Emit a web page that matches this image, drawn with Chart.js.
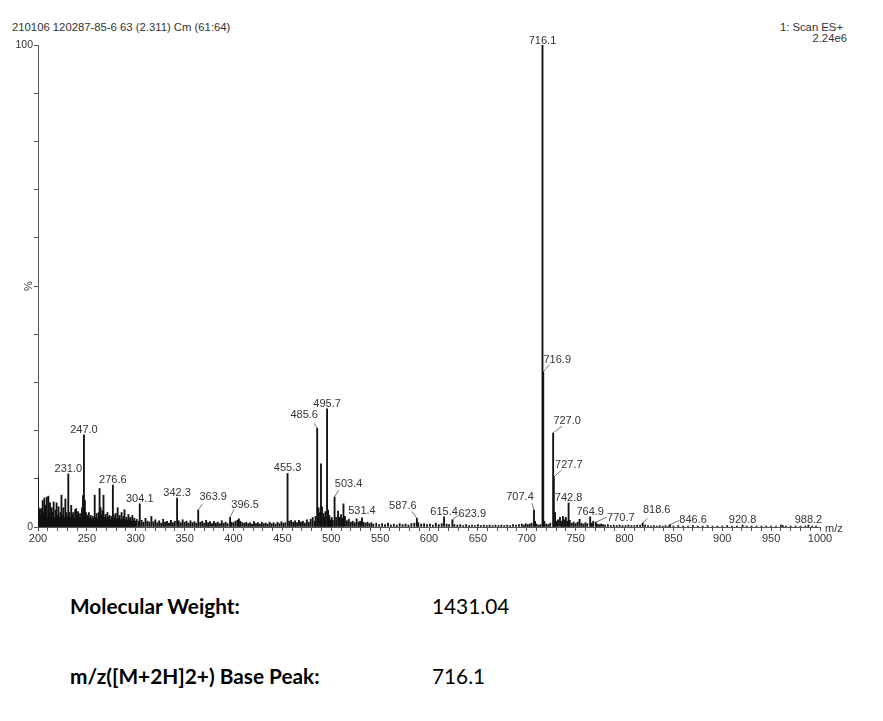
<!DOCTYPE html>
<html>
<head>
<meta charset="utf-8">
<script src="https://cdn.jsdelivr.net/npm/chart.js@4.4.1/dist/chart.umd.min.js"></script>
<style>
  body { margin: 0; background: #fff; width: 883px; height: 721px; position: relative; overflow: hidden; font-family: 'Liberation Sans', Arial, sans-serif; }
  #wrap { position: absolute; left: 0; top: 0; width: 883px; height: 560px; }
  .hdr { position: absolute; font-size: 11.3px; line-height: 12px; color: #333; white-space: nowrap; }
  .info { position: absolute; font-family: Lato, 'Open Sans', sans-serif; font-size: 20.8px; line-height: 22px; color: #000; white-space: nowrap; }
  .info b { font-weight: 700; }
</style>
</head>
<body>
<div class="hdr" style="left:12px; top:21px;">210106 120287-85-6 63 (2.311) Cm (61:64)</div>
<div class="hdr" style="right:40px; top:21px;">1: Scan ES+</div>
<div class="hdr" style="right:36px; top:32px;">2.24e6</div>
<div id="wrap"><canvas id="spettro" width="883" height="560"></canvas></div>
<div class="info" style="left:70px; top:595px;"><b>Molecular Weight:</b></div>
<div class="info" style="left:432px; top:595px;">1431.04</div>
<div class="info" style="left:70px; top:665px;"><b>m/z([M+2H]2+) Base Peak:</b></div>
<div class="info" style="left:432px; top:665px;">716.1</div>
<script>
const spectrum = [
  [200.0, 10.4], [200.8, 4], [201.5, 3.5], [202.3, 2.5], [203.1, 3.8], [204.0, 2], [204.8, 5.5], [205.6, 3], [206.5, 6], [207.3, 2.5],
  [208.1, 4.5], [209.0, 6.2], [209.8, 2], [210.6, 6.4], [211.5, 3], [212.3, 5], [213.1, 2.2], [214.0, 4], [215.0, 3], [216.0, 5.2],
  [217.0, 2], [218.0, 3.5], [219.0, 5], [220.0, 2.4], [221.0, 4.2], [222.0, 2], [223.0, 3], [224.0, 6.6], [225.0, 2.5], [226.0, 4],
  [227.0, 2], [228.0, 5.8], [229.0, 3], [230.0, 2.2], [231.0, 11.0], [232.0, 3], [233.0, 2], [234.0, 4.5], [235.0, 2.5], [236.0, 3],
  [237.0, 1.8], [238.0, 3.6], [239.0, 3.8], [240.0, 2.5], [241.0, 3.2], [242.0, 2], [243.0, 2.8], [244.0, 1.8], [245.0, 4], [246.0, 6.5],
  [247.0, 19.1], [248.0, 5.5], [249.0, 3], [250.0, 2.5], [251.0, 2.2], [252.0, 3], [253.0, 1.8], [254.0, 2.4], [255.0, 1.6], [256.0, 2.2],
  [257.0, 1.8], [258.0, 6.6], [259.0, 2], [260.0, 2.8], [261.0, 1.8], [262.0, 3], [263.0, 8], [264.0, 4], [265.0, 2.5], [266.0, 3.4],
  [267.0, 6.6], [268.0, 2], [269.0, 2.6], [270.0, 1.8], [271.0, 3], [272.0, 2], [273.0, 2.4], [274.0, 1.6], [275.0, 2.2], [276.6, 8.7],
  [277.5, 2.5], [278.5, 1.8], [279.5, 2.8], [280.5, 1.6], [281.5, 4], [282.5, 1.8], [283.5, 2.4], [284.5, 1.5], [285.5, 3], [286.5, 1.6],
  [287.5, 2.2], [288.5, 3.6], [289.5, 1.5], [290.5, 2], [291.5, 1.4], [292.5, 2.6], [293.5, 1.5], [294.5, 2], [295.5, 1.2], [296.5, 2.4],
  [297.5, 1.3], [298.5, 1.8], [299.5, 1.2], [301, 1.6], [303, 1.2], [304.1, 4.8], [306, 1.4], [308, 1], [310, 1.8], [312, 1.2],
  [314, 1], [316, 2.2], [318, 1.1], [320, 1.5], [322, 0.9], [324, 1.3], [326, 0.8], [328, 1.6], [330, 1], [332, 1.2],
  [334, 0.8], [336, 1.4], [338, 0.9], [340, 1.2], [342.3, 6.0], [344, 1.3], [346, 0.9], [348, 1.5], [350, 1], [352, 1.2],
  [354, 0.8], [356, 1.3], [358, 0.9], [360, 1.1], [362, 0.8], [363.9, 3.5], [366, 1], [368, 1.2], [370, 0.8], [372, 1.4],
  [374, 0.9], [376, 1.1], [378, 0.7], [380, 1.2], [382, 0.8], [384, 1], [386, 0.7], [388, 1.3], [390, 0.8], [392, 1],
  [394, 0.7], [396.5, 2.0], [398, 1], [400, 0.9], [402, 1.2], [404, 1.4], [405.5, 1.7], [407, 1.2], [409, 0.9], [411, 0.8],
  [413, 1], [415, 0.7], [417, 0.9], [419, 0.6], [421, 1.1], [423, 0.7], [425, 0.9], [427, 0.6], [429, 1], [431, 0.7],
  [433, 0.8], [435, 0.6], [437, 1], [439, 0.7], [441, 0.9], [443, 0.6], [445, 1], [447, 0.7], [449, 1.1], [451, 0.8],
  [453, 0.9], [455.3, 11.1], [457, 1.2], [459, 1.4], [461, 1], [463, 1.3], [465, 0.9], [467, 1.4], [469, 1], [471, 1.2],
  [473, 0.8], [475, 1.5], [477, 1], [479, 1.6], [481, 2], [483, 1.2], [484, 2.2], [485.6, 20.5], [487, 4], [488.5, 3],
  [489.5, 13.1], [490.5, 4.2], [492, 2.8], [493, 2], [494, 3.2], [495.7, 24.5], [496.8, 3.5], [498, 2.4], [499, 1.5], [500.5, 2],
  [501.5, 1.4], [503.4, 6.2], [505, 2], [507, 3.3], [508.5, 2], [510, 2.6], [511.5, 1.8], [512.5, 4.8], [514, 2.2], [516, 1.3],
  [518, 1.6], [520, 1], [522, 1.2], [524, 0.9], [526, 1.7], [528, 1], [529.5, 1.2], [531.4, 1.9], [533, 1], [535, 0.8],
  [537, 1], [539, 0.7], [541, 0.9], [543, 0.6], [546, 0.8], [549, 0.5], [552, 0.7], [555, 0.5], [558, 0.8], [561, 0.4],
  [564, 0.6], [567, 0.4], [570, 0.7], [573, 0.5], [576, 0.6], [579, 0.4], [582, 0.7], [585, 0.8], [587.6, 1.8], [589, 0.9],
  [592, 0.6], [595, 0.7], [598, 0.5], [601, 0.6], [604, 0.4], [607, 0.8], [610, 0.5], [613, 0.7], [615.4, 2.1], [618, 0.6],
  [620.5, 0.5], [623.9, 1.5], [626, 0.5], [629, 0.4], [632, 0.5], [635, 0.3], [638, 0.5], [641, 0.3], [644, 0.4], [647, 0.3],
  [650, 0.5], [653, 0.3], [656, 0.4], [659, 0.3], [662, 0.4], [665, 0.3], [668, 0.4], [671, 0.3], [674, 0.4], [677, 0.3],
  [680, 0.4], [683, 0.3], [686, 0.5], [689, 0.4], [692, 0.5], [695, 0.6], [697, 0.4], [699, 0.7], [701, 0.5], [703, 0.6],
  [705, 0.8], [707.4, 3.5], [708.5, 1.2], [710, 0.6], [712, 0.4], [714, 0.5], [716.1, 100], [716.9, 32.2], [718, 1.2], [720, 0.6],
  [722, 0.5], [724, 0.8], [727.0, 19.5], [727.7, 10.4], [729, 3], [730.5, 1.2], [732, 1.5], [734, 2], [735.5, 1.2], [737, 2.2],
  [738.5, 1.5], [740, 2], [741.5, 1.2], [742.8, 5.0], [744, 1.4], [746, 0.8], [748, 1], [750, 0.7], [752, 1], [754, 1.6],
  [756, 0.8], [758, 0.6], [760, 0.9], [762, 0.7], [764.9, 2.1], [766.5, 0.8], [768, 1.2], [770.7, 1.0], [772, 0.6], [774, 0.5],
  [776, 0.6], [778, 0.5], [780, 0.4], [783, 0.5], [786, 0.3], [789, 0.4], [792, 0.3], [795, 0.4], [798, 0.3], [801, 0.3],
  [804, 0.4], [807, 0.3], [810, 0.3], [813, 0.4], [816, 0.4], [818.6, 0.8], [821, 0.4], [824, 0.3], [827, 0.2], [830, 0.3],
  [833, 0.2], [836, 0.3], [839, 0.2], [842, 0.3], [845, 0.2], [846.6, 0.5], [850, 0.2], [855, 0.3], [860, 0.2], [865, 0.2],
  [870, 0.3], [875, 0.2], [880, 0.2], [885, 0.3], [890, 0.2], [895, 0.2], [900, 0.2], [905, 0.3], [910, 0.2], [915, 0.2],
  [920.8, 0.4], [925, 0.2], [930, 0.2], [935, 0.2], [940, 0.2], [945, 0.2], [950, 0.2], [955, 0.2], [960, 0.4], [962, 0.3],
  [965, 0.2], [970, 0.2], [975, 0.2], [980, 0.2], [985, 0.2], [988.2, 0.4], [992, 0.2], [996, 0.2]
];

// picchi etichettati
const labelMz = [231.0, 247.0, 276.6, 304.1, 342.3, 363.9, 396.5, 455.3, 485.6, 495.7, 503.4, 531.4, 587.6, 615.4,
                 623.9, 707.4, 716.1, 716.9, 727.0, 727.7, 742.8, 764.9, 770.7, 818.6, 846.6, 920.8, 988.2];

// posizione etichette: [fine linea dx, dy, testo dx, testo dy] in pixel
const labelPlacement = [
  [0, 0, 0, -2], [0, 0, 0, -2], [0, 0, 0, -2], [0, 0, 0, -2], [0, 0, 0, -2], [4, -6, 15, -10], [4, -8, 15, -9],
  [0, 0, 0, -2], [-3, -5, -13, -10], [0, 0, 0, -2], [4, -7, 14, -10], [0, 0, 0, -4], [-5, -7, -14, -9], [0, 0, 0, -2],
  [7, -5, 20, -3], [-2, -7, -14, -10], [0, 0, 0, -1], [6, -7, 14, -9], [9, -7, 14, -9], [8, -7, 15, -9], [0, 0, 0, -2],
  [0, 0, 0, -2], [11, -5, 25, -1], [5, -5, 14, -10], [9, -4, 23, -2], [0, 0, 0, -2], [0, 0, 0, -2]
];

const FONT = "'Liberation Sans', Arial, sans-serif";

const etichette = {
  id: 'etichette',
  afterDatasetsDraw(chart) {
    const { ctx, scales: { x, y } } = chart;
    ctx.save();
    ctx.font = '11px ' + FONT;
    ctx.fillStyle = '#333';
    ctx.strokeStyle = '#555';
    ctx.lineWidth = 0.8;
    ctx.textAlign = 'center';
    labelMz.forEach((mz, i) => {
      const pk = spectrum.find(p => p[0] === mz);
      const px = x.getPixelForValue(mz);
      const py = y.getPixelForValue(pk[1]);
      const [lx, ly, tx, ty] = labelPlacement[i];
      if (lx || ly) {
        ctx.beginPath();
        ctx.moveTo(px, py);
        ctx.lineTo(px + lx, py + ly);
        ctx.stroke();
      }
      ctx.fillText(mz.toFixed(1), px + tx, py + ty);
    });
    ctx.textAlign = 'left';
    ctx.fillText('m/z', x.right + 5, y.bottom + 5);
    // simbolo % ruotato sull'asse y
    ctx.translate(x.left - 9, y.getPixelForValue(50));
    ctx.rotate(-Math.PI / 2);
    ctx.textAlign = 'center';
    ctx.fillText('%', 0, 3);
    ctx.restore();
  }
};

const ctx = document.getElementById('spettro').getContext('2d');

new Chart(ctx, {
  type: 'bar',
  data: {
    datasets: [{
      data: spectrum.map(p => ({ x: p[0], y: p[1] })),
      backgroundColor: '#111',
      borderWidth: 0,
      barThickness: 1.2
    }]
  },
  options: {
    responsive: false,
    animation: false,
    layout: { padding: { top: 45, right: 63, left: 0, bottom: 0 } },
    plugins: { legend: { display: false }, tooltip: { enabled: false } },
    scales: {
      x: {
        type: 'linear', min: 200, max: 1000, offset: false,
        grid: { drawOnChartArea: false, tickLength: 4, color: '#555', offset: false },
        border: { color: '#555' },
        ticks: {
          stepSize: 10, autoSkip: false, maxRotation: 0, maxTicksLimit: 200, padding: 1,
          color: '#333', font: { size: 11, family: FONT },
          callback: v => (v % 50 === 0 ? v : '')
        },
        afterFit(s) { s.height = 33; }
      },
      y: {
        min: 0, max: 100,
        grid: { drawOnChartArea: false, tickLength: 4, color: '#555' },
        border: { color: '#555' },
        ticks: {
          stepSize: 10, autoSkip: false, padding: 1,
          color: '#333', font: { size: 10.5, family: FONT },
          callback: v => (v === 100 || v === 0 ? v : '')
        },
        afterFit(s) { s.width = 38; }
      }
    }
  },
  plugins: [etichette]
});
</script>
</body>
</html>
